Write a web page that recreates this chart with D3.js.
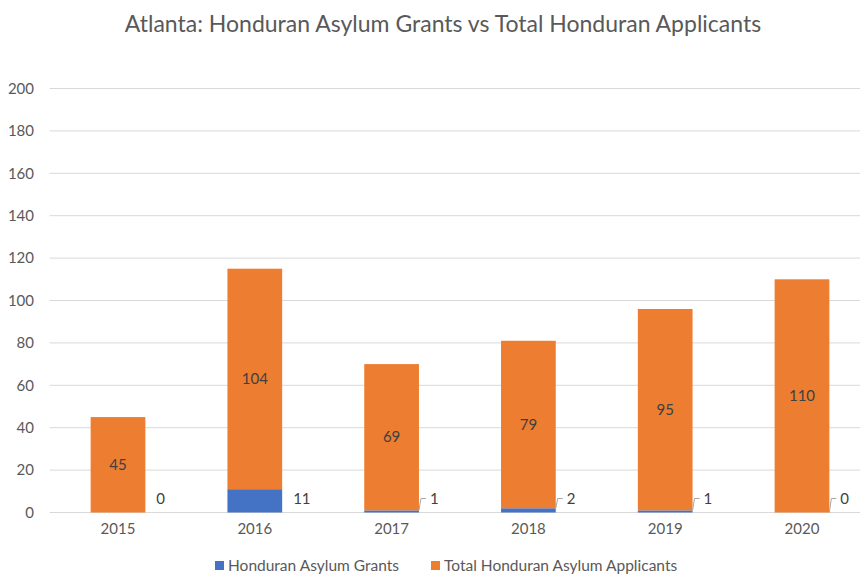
<!DOCTYPE html>
<html>
<head>
<meta charset="utf-8">
<script src="https://cdn.jsdelivr.net/npm/d3@7"></script>
<style>
  body { margin: 0; background: #fff; }
  text { font-family: Lato, "Open Sans", sans-serif; fill: #595959; }
</style>
</head>
<body>
<div id="chart"></div>
<script>
// Data
var years = ["2015", "2016", "2017", "2018", "2019", "2020"]
var grants = [0, 11, 1, 2, 1, 0]
var applicants = [45, 104, 69, 79, 95, 110]
var leaders = [false, false, true, true, true, true]
var yTicks = [0, 20, 40, 60, 80, 100, 120, 140, 160, 180, 200]
var seriesNames = ["Honduran Asylum Grants", "Total Honduran Asylum Applicants"]

var width = 860
var height = 575
var color = ["#4472C4", "#ED7D31"]

var svg = d3.select('#chart')
            .append('svg')
            .attr('width', width)
            .attr('height', height)

// Title
svg.append('text')
    .attr('x', 443)
    .attr('y', 32)
    .attr('text-anchor', 'middle')
    .style('font-size', '23px')
    .text("Atlanta: Honduran Asylum Grants vs Total Honduran Applicants")

var xScale = d3.scaleBand()
                .domain(years)
                .range([49.6, 870.4])
                .paddingInner(0.6)
                .paddingOuter(0.3)

var yScale = d3.scaleLinear()
                .domain([0, 200])
                .range([512.5, 88.5])

// Gridlines
svg.append('g')
    .selectAll('line')
    .data(yTicks)
    .join('line')
    .attr('x1', 49.6)
    .attr('x2', width)
    .attr('y1', d => yScale(d))
    .attr('y2', d => yScale(d))
    .attr('stroke', '#d9d9d9')
    .attr('stroke-width', 1)

// Y axis (labels only)
var yAxis = d3.axisLeft(yScale).tickValues(yTicks).tickSize(0).tickPadding(0)
var yG = svg.append('g')
    .attr('transform', 'translate(34,0)')
    .call(yAxis)
yG.select('.domain').remove()
yG.selectAll('text')
    .style('font-size', '15px')
    .style('font-family', 'Lato, "Open Sans", sans-serif')
    .attr('fill', '#595959')

// X axis (labels only)
var xAxis = d3.axisBottom(xScale).tickSize(0).tickPadding(0)
var xG = svg.append('g')
    .attr('transform', 'translate(0,' + 523 + ')')
    .call(xAxis)
xG.select('.domain').remove()
xG.selectAll('text')
    .style('font-size', '15px')
    .style('font-family', 'Lato, "Open Sans", sans-serif')
    .attr('fill', '#595959')

// Stack data
var rows = years.map((y, i) => ({ year: y, grants: grants[i], applicants: applicants[i], leader: leaders[i] }))
var stack = d3.stack().keys(["grants", "applicants"])(rows)

svg.append('g')
    .selectAll('g')
    .data(stack)
    .join('g')
    .attr('fill', (d, i) => color[i])
    .selectAll('rect')
    .data(d => d)
    .join('rect')
    .attr('x', d => xScale(d.data.year))
    .attr('y', d => yScale(d[1]))
    .attr('width', xScale.bandwidth())
    .attr('height', d => yScale(d[0]) - yScale(d[1]))

// Applicant labels (centered in orange segment)
svg.append('g')
    .selectAll('text')
    .data(stack[1])
    .join('text')
    .attr('x', d => xScale(d.data.year) + xScale.bandwidth() / 2)
    .attr('y', d => yScale((d[0] + d[1]) / 2))
    .attr('dy', '0.35em')
    .attr('text-anchor', 'middle')
    .style('font-size', '15px')
    .style('fill', '#404040')
    .text(d => d.data.applicants)

// Grant labels to the right of bars
function labelY(d) {
    return Math.min(yScale(d.grants / 2), yScale(0) - 14)
}
var right = d => xScale(d.year) + xScale.bandwidth()

svg.append('g')
    .selectAll('path')
    .data(rows.filter(d => d.leader))
    .join('path')
    .attr('d', d => 'M' + right(d) + ',' + yScale(d.grants) +
                    'L' + (right(d) + 2) + ',' + labelY(d) +
                    'L' + (right(d) + 7) + ',' + labelY(d))
    .attr('fill', 'none')
    .attr('stroke', '#a6a6a6')
    .attr('stroke-width', 1)

svg.append('g')
    .selectAll('text')
    .data(rows)
    .join('text')
    .attr('x', d => right(d) + 11)
    .attr('y', d => labelY(d))
    .attr('dy', '0.35em')
    .style('font-size', '15px')
    .style('fill', '#404040')
    .text(d => d.grants)

// Legend
var legendX = [215, 431]
var legend = svg.append('g')
seriesNames.forEach((s, v) => {
    var row = legend.append('g')
        .attr('transform', 'translate(' + legendX[v] + ', 561)')
    row.append('rect')
        .attr('width', 9)
        .attr('height', 9)
        .attr('fill', color[v])
    row.append('text')
        .attr('x', 13)
        .attr('y', 9.5)
        .style('font-size', '15.5px')
        .text(s)
})
</script>
</body>
</html>
